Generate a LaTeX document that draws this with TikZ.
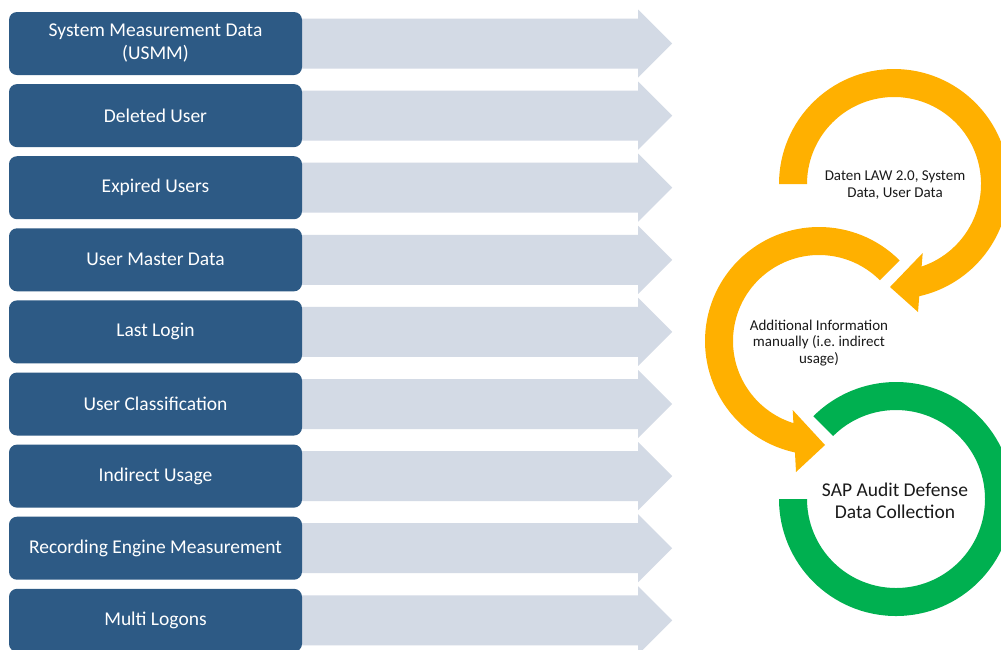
\documentclass[tikz,border=0pt]{standalone}
\usepackage{fontspec}
\setmainfont{Carlito}
\definecolor{boxblue}{HTML}{2D5A85}
\definecolor{arrowgrey}{HTML}{D3DAE5}
\definecolor{ringorange}{HTML}{FFB000}
\definecolor{ringgreen}{HTML}{00B050}
\definecolor{ringtext}{HTML}{1A1A1A}
\pgfdeclarelayer{canvas}
\pgfdeclarelayer{feeds}
\pgfsetlayers{canvas,feeds,main}
\begin{document}
\begin{tikzpicture}[x=1pt,y=1pt,
  databox/.style={draw=none, fill=boxblue, rounded corners=8pt,
    minimum width=293pt, minimum height=63pt, inner sep=0pt,
    text=white, align=center, font=\fontsize{19.5}{23}\selectfont},
  flowarrow/.style={fill=arrowgrey},
  ringlabel/.style={align=center, text=ringtext, inner sep=0pt},
]
\useasboundingbox (0,0) rectangle (1001,-649);
\begin{pgfonlayer}{canvas}
  \fill[white] (0,0) rectangle (1001,-649);
\end{pgfonlayer}

% data sources with their feed arrows
\foreach \i/\txt in {
  1/{System Measurement Data\\(USMM)},
  2/{Deleted User},
  3/{Expired Users},
  4/{User Master Data},
  5/{Last Login},
  6/{User Classification},
  7/{Indirect Usage},
  8/{Recording Engine Measurement},
  9/{Multi Logons}} {
  \node[databox] (b\i) at (155.5, {-43.5-72.1*(\i-1)}) {\txt};
  \begin{pgfonlayer}{feeds}
    \fill[flowarrow] ([xshift=-12pt]b\i.east) ++(0,25) -- ++(348,0) -- ++(0,9)
      -- ++(34,-34) -- ++(-34,-34) -- ++(0,9) -- ++(-348,0) -- cycle;
  \end{pgfonlayer}
}

% upper cycle arrow
\fill[ringorange] ([shift={(180:115)}]894,-184) arc[start angle=180, end angle=-80, radius=115]
  -- ([shift={(-80:87)}]894,-184) arc[start angle=-80, end angle=180, radius=87] -- cycle;
\fill[ringorange] (890,-287) -- (922.7,-253) -- (918,-312) -- cycle;

% middle cycle arrow
\fill[ringorange] ([shift={(45:114)}]819,-341) arc[start angle=45, end angle=260, radius=114]
  -- ([shift={(260:86)}]819,-341) arc[start angle=260, end angle=45, radius=86] -- cycle;
\fill[ringorange] (825,-445) -- (792.7,-410) -- (796,-472) -- cycle;

% collection ring
\fill[ringgreen] ([shift={(180:117)}]896,-499) arc[start angle=180, end angle=495, radius=117]
  -- ([shift={(135:89)}]896,-499) arc[start angle=495, end angle=180, radius=89] -- cycle;

\node[ringlabel, font=\fontsize{15}{16.5}\selectfont] (t1) at (895,-185)
  {Daten LAW 2.0, System\\Data, User Data};
\node[ringlabel, font=\fontsize{15}{16.5}\selectfont] (t2) at (819,-343)
  {Additional Information\\manually (i.e.\ indirect\\usage)};
\node[ringlabel, font=\fontsize{19.5}{22}\selectfont] (t3) at (895,-501)
  {SAP Audit Defense\\Data Collection};
\end{tikzpicture}
\end{document}
